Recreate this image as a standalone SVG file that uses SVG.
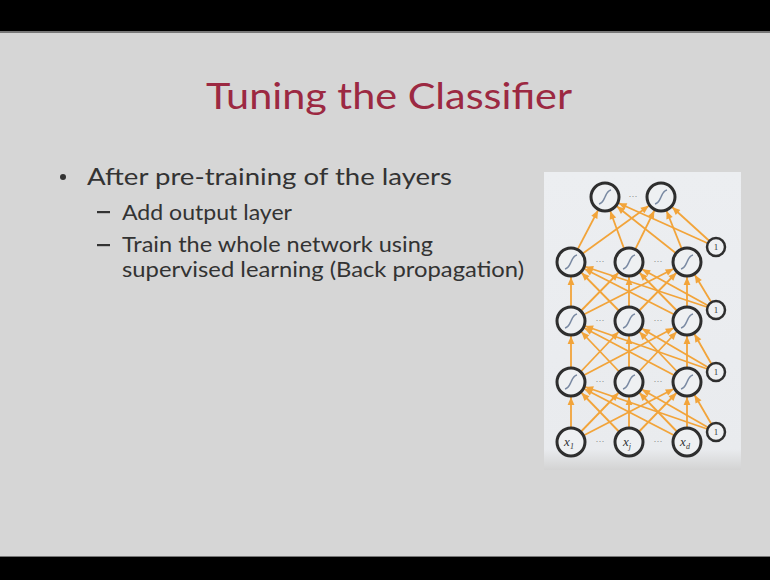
<svg xmlns="http://www.w3.org/2000/svg" xmlns:xlink="http://www.w3.org/1999/xlink" width="770" height="580" viewBox="0 0 770 580">
  <style>
    .title { font-family: Lato, "Open Sans", "Liberation Sans", sans-serif; font-size: 37px; fill: #9c2942; }
    .body { font-family: Lato, "Open Sans", "Liberation Sans", sans-serif; fill: #333333; }
    .l1 { font-size: 24px; }
    .l2 { font-size: 20.5px; }
    .edge { stroke: #f2a43a; stroke-width: 1.8; marker-end: url(#arrow); }
    .unit { fill: #eef0f2; stroke: #2e2e2e; stroke-width: 3; }
    .bias { fill: #eef0f2; stroke: #2e2e2e; stroke-width: 2.5; }
    .sig { fill: none; stroke: #7a8aa3; stroke-width: 1.5; }
    .xin { font-family: "Liberation Serif", serif; font-style: italic; font-size: 13px; fill: #333; }
    .one { font-family: "Liberation Serif", serif; font-size: 9px; fill: #333; }
    .dots { font-family: "Liberation Sans", sans-serif; font-size: 9px; fill: #8a8a8a; }
  </style>
  <defs>
    <linearGradient id="panelFill" x1="0" y1="0" x2="0" y2="1">
      <stop offset="0" stop-color="#eceef1"/>
      <stop offset="0.93" stop-color="#e9ebee"/>
      <stop offset="1" stop-color="#d3d3d3"/>
    </linearGradient>
    <!-- arrow tip pulled back onto the rim of the target circle -->
    <marker id="arrow" markerUnits="userSpaceOnUse" markerWidth="10" markerHeight="8" refX="23" refY="0" orient="auto" overflow="visible">
      <path d="M0,-3.4 L8,0 L0,3.4 z" fill="#f2a43a"/>
    </marker>
    <path id="sig" class="sig" d="M-6,7 C-2,6 -1,2 0,0 S2,-6 6,-7"/>
  </defs>

  <!-- slide background and letterbox bars -->
  <rect x="0" y="0" width="770" height="580" fill="#d6d6d6"/>
  <rect x="0" y="0" width="770" height="31" fill="#000"/>
  <rect x="0" y="31" width="770" height="2" fill="#777"/>
  <rect x="0" y="556" width="770" height="2" fill="#777"/>
  <rect x="0" y="557" width="770" height="23" fill="#000"/>

  <!-- title -->
  <text class="title" x="206" y="109" textLength="366" lengthAdjust="spacingAndGlyphs">Tuning the Classifier</text>

  <!-- bullet list -->
  <g id="bullets">
    <circle cx="63" cy="177" r="3" fill="#333333"/>
    <text class="body l1" x="87" y="185" textLength="365" lengthAdjust="spacingAndGlyphs">After pre-training of the layers</text>
    <rect x="97" y="211" width="13" height="2.2" fill="#333333"/>
    <text class="body l2" x="122" y="220" textLength="170" lengthAdjust="spacingAndGlyphs">Add output layer</text>
    <rect x="97" y="244" width="13" height="2.2" fill="#333333"/>
    <text class="body l2" x="122" y="252" textLength="311" lengthAdjust="spacingAndGlyphs">Train the whole network using</text>
    <text class="body l2" x="122" y="277" textLength="402" lengthAdjust="spacingAndGlyphs">supervised learning (Back propagation)</text>
  </g>

  <!-- network figure panel -->
  <rect x="544" y="172" width="197" height="298" fill="url(#panelFill)"/>

  <g id="connectors">
    <!-- hidden layer 3 + bias to output layer -->
    <line class="edge" x1="571" y1="262" x2="605" y2="197"/>
    <line class="edge" x1="571" y1="262" x2="661" y2="197"/>
    <line class="edge" x1="629" y1="262" x2="605" y2="197"/>
    <line class="edge" x1="629" y1="262" x2="661" y2="197"/>
    <line class="edge" x1="687" y1="262" x2="605" y2="197"/>
    <line class="edge" x1="687" y1="262" x2="661" y2="197"/>
    <line class="edge" x1="716" y1="247" x2="605" y2="197"/>
    <line class="edge" x1="716" y1="247" x2="661" y2="197"/>
    <!-- hidden layer 2 + bias to hidden layer 3 -->
    <line class="edge" x1="571" y1="321" x2="571" y2="262"/>
    <line class="edge" x1="571" y1="321" x2="629" y2="262"/>
    <line class="edge" x1="571" y1="321" x2="687" y2="262"/>
    <line class="edge" x1="629" y1="321" x2="571" y2="262"/>
    <line class="edge" x1="629" y1="321" x2="629" y2="262"/>
    <line class="edge" x1="629" y1="321" x2="687" y2="262"/>
    <line class="edge" x1="687" y1="321" x2="571" y2="262"/>
    <line class="edge" x1="687" y1="321" x2="629" y2="262"/>
    <line class="edge" x1="687" y1="321" x2="687" y2="262"/>
    <line class="edge" x1="716" y1="310" x2="571" y2="262"/>
    <line class="edge" x1="716" y1="310" x2="629" y2="262"/>
    <line class="edge" x1="716" y1="310" x2="687" y2="262"/>
    <!-- hidden layer 1 + bias to hidden layer 2 -->
    <line class="edge" x1="571" y1="382" x2="571" y2="321"/>
    <line class="edge" x1="571" y1="382" x2="629" y2="321"/>
    <line class="edge" x1="571" y1="382" x2="687" y2="321"/>
    <line class="edge" x1="629" y1="382" x2="571" y2="321"/>
    <line class="edge" x1="629" y1="382" x2="629" y2="321"/>
    <line class="edge" x1="629" y1="382" x2="687" y2="321"/>
    <line class="edge" x1="687" y1="382" x2="571" y2="321"/>
    <line class="edge" x1="687" y1="382" x2="629" y2="321"/>
    <line class="edge" x1="687" y1="382" x2="687" y2="321"/>
    <line class="edge" x1="716" y1="372" x2="571" y2="321"/>
    <line class="edge" x1="716" y1="372" x2="629" y2="321"/>
    <line class="edge" x1="716" y1="372" x2="687" y2="321"/>
    <!-- inputs + bias to hidden layer 1 -->
    <line class="edge" x1="571" y1="442" x2="571" y2="382"/>
    <line class="edge" x1="571" y1="442" x2="629" y2="382"/>
    <line class="edge" x1="571" y1="442" x2="687" y2="382"/>
    <line class="edge" x1="629" y1="442" x2="571" y2="382"/>
    <line class="edge" x1="629" y1="442" x2="629" y2="382"/>
    <line class="edge" x1="629" y1="442" x2="687" y2="382"/>
    <line class="edge" x1="687" y1="442" x2="571" y2="382"/>
    <line class="edge" x1="687" y1="442" x2="629" y2="382"/>
    <line class="edge" x1="687" y1="442" x2="687" y2="382"/>
    <line class="edge" x1="716" y1="432" x2="571" y2="382"/>
    <line class="edge" x1="716" y1="432" x2="629" y2="382"/>
    <line class="edge" x1="716" y1="432" x2="687" y2="382"/>
  </g>

  <!-- ellipses between units -->
  <g id="ellipses">
    <text class="dots" x="633" y="199" text-anchor="middle">···</text>
    <text class="dots" x="600" y="264" text-anchor="middle">···</text>
    <text class="dots" x="658" y="264" text-anchor="middle">···</text>
    <text class="dots" x="600" y="323" text-anchor="middle">···</text>
    <text class="dots" x="658" y="323" text-anchor="middle">···</text>
    <text class="dots" x="600" y="384" text-anchor="middle">···</text>
    <text class="dots" x="658" y="384" text-anchor="middle">···</text>
    <text class="dots" x="600" y="444" text-anchor="middle">···</text>
    <text class="dots" x="658" y="444" text-anchor="middle">···</text>
  </g>

  <!-- output layer -->
  <g id="out1" transform="translate(605,197)"><circle class="unit" r="14"/><use xlink:href="#sig" href="#sig"/></g>
  <g id="out2" transform="translate(661,197)"><circle class="unit" r="14"/><use xlink:href="#sig" href="#sig"/></g>

  <!-- hidden layer 3 -->
  <g id="h3a" transform="translate(571,262)"><circle class="unit" r="14"/><use xlink:href="#sig" href="#sig"/></g>
  <g id="h3b" transform="translate(629,262)"><circle class="unit" r="14"/><use xlink:href="#sig" href="#sig"/></g>
  <g id="h3c" transform="translate(687,262)"><circle class="unit" r="14"/><use xlink:href="#sig" href="#sig"/></g>
  <g id="b3" transform="translate(716,247)"><circle class="bias" r="9"/><text class="one" y="3" text-anchor="middle">1</text></g>

  <!-- hidden layer 2 -->
  <g id="h2a" transform="translate(571,321)"><circle class="unit" r="14"/><use xlink:href="#sig" href="#sig"/></g>
  <g id="h2b" transform="translate(629,321)"><circle class="unit" r="14"/><use xlink:href="#sig" href="#sig"/></g>
  <g id="h2c" transform="translate(687,321)"><circle class="unit" r="14"/><use xlink:href="#sig" href="#sig"/></g>
  <g id="b2" transform="translate(716,310)"><circle class="bias" r="9"/><text class="one" y="3" text-anchor="middle">1</text></g>

  <!-- hidden layer 1 -->
  <g id="h1a" transform="translate(571,382)"><circle class="unit" r="14"/><use xlink:href="#sig" href="#sig"/></g>
  <g id="h1b" transform="translate(629,382)"><circle class="unit" r="14"/><use xlink:href="#sig" href="#sig"/></g>
  <g id="h1c" transform="translate(687,382)"><circle class="unit" r="14"/><use xlink:href="#sig" href="#sig"/></g>
  <g id="b1" transform="translate(716,372)"><circle class="bias" r="9"/><text class="one" y="3" text-anchor="middle">1</text></g>

  <!-- input layer -->
  <g id="x1" transform="translate(571,442)"><circle class="unit" r="14"/><text class="xin" x="-2" y="4" text-anchor="middle">x<tspan font-size="8" dy="3">1</tspan></text></g>
  <g id="xj" transform="translate(629,442)"><circle class="unit" r="14"/><text class="xin" x="-2" y="4" text-anchor="middle">x<tspan font-size="8" dy="3">j</tspan></text></g>
  <g id="xd" transform="translate(687,442)"><circle class="unit" r="14"/><text class="xin" x="-2" y="4" text-anchor="middle">x<tspan font-size="8" dy="3">d</tspan></text></g>
  <g id="b0" transform="translate(716,432)"><circle class="bias" r="9"/><text class="one" y="3" text-anchor="middle">1</text></g>
</svg>
